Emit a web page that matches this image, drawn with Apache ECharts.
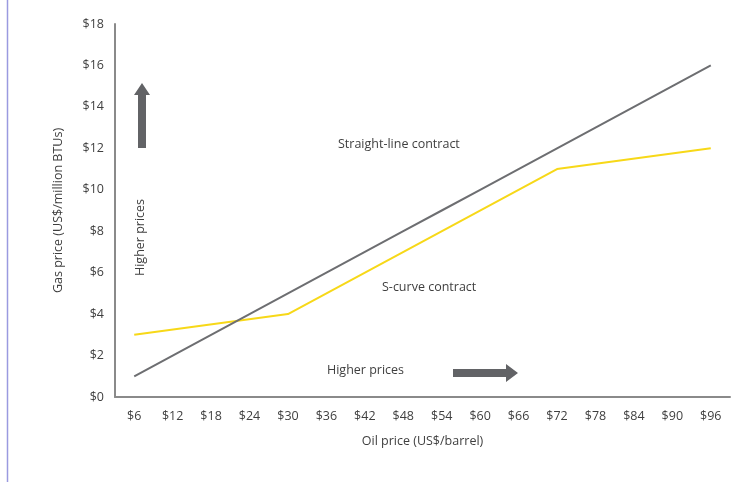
<!DOCTYPE html>
<html>
<head>
<meta charset="utf-8">
<script src="https://cdn.jsdelivr.net/npm/echarts@6/dist/echarts.min.js"></script>
<style>
  html, body { margin: 0; padding: 0; background: #fff; }
  #app { width: 750px; height: 482px; }
</style>
</head>
<body>
<div id="app"></div>
<script>
// oil price categories (US$/barrel)
var oilPrices = ['$6', '$12', '$18', '$24', '$30', '$36', '$42', '$48', '$54', '$60', '$66', '$72', '$78', '$84', '$90', '$96'];
// straight-line contract: gas price per oil price
var straightLine = [1, 2, 3, 4, 5, 6, 7, 8, 9, 10, 11, 12, 13, 14, 15, 16];
// s-curve contract: only the break points are known
var sCurve = [3, null, null, null, 4, null, null, null, null, null, null, 11, null, null, null, 12];

var font = '"Open Sans", "DejaVu Sans", sans-serif';
var txt = '#3f3f3f';
var fs = 12.5;

var chart = echarts.init(document.getElementById('app'));
chart.setOption({
    animation: false,
    grid: { left: 115, right: 20, top: 24, bottom: 85 },
    xAxis: {
        type: 'category',
        data: oilPrices,
        boundaryGap: true,
        name: 'Oil price (US$/barrel)',
        nameLocation: 'middle',
        nameGap: 38,
        nameTextStyle: { color: txt, fontSize: fs, fontFamily: font },
        axisLine: { lineStyle: { color: '#8a8a8a', width: 2 } },
        axisTick: { show: false },
        axisLabel: { color: txt, fontSize: fs, fontFamily: font, margin: 13 },
        splitLine: { show: false }
    },
    yAxis: {
        type: 'value',
        min: 0, max: 18, interval: 2,
        name: 'Gas price (US$/million BTUs)',
        nameLocation: 'middle',
        nameGap: 50,
        nameTextStyle: { color: txt, fontSize: fs, fontFamily: font },
        axisLine: { show: true, lineStyle: { color: '#8a8a8a', width: 2 } },
        axisTick: { show: false },
        axisLabel: { color: txt, fontSize: fs, fontFamily: font, margin: 11,
            formatter: function (v) { return '$' + v; } },
        splitLine: { show: false }
    },
    series: [
        {
            name: 'Straight-line contract',
            type: 'line',
            data: straightLine,
            symbol: 'none',
            lineStyle: { color: '#6d6e71', width: 2 },
            z: 3
        },
        {
            name: 'S-curve contract',
            type: 'line',
            data: sCurve,
            connectNulls: true,
            symbol: 'none',
            lineStyle: { color: '#f7d818', width: 2 },
            z: 2
        }
    ],
    graphic: [
        // left page border
        { type: 'line', shape: { x1: 7.5, y1: 0, x2: 7.5, y2: 482 }, style: { stroke: '#9a9ae0', lineWidth: 1.5 } },
        { type: 'text', left: 338, top: 138, style: { text: 'Straight-line contract', fill: txt, font: fs + 'px ' + font } },
        { type: 'text', left: 382, top: 281, style: { text: 'S-curve contract', fill: txt, font: fs + 'px ' + font } },
        { type: 'text', left: 327, top: 364, style: { text: 'Higher prices', fill: txt, font: fs + 'px ' + font } },
        { type: 'text', x: 134, y: 276, rotation: Math.PI / 2,
          style: { text: 'Higher prices', fill: txt, font: fs + 'px ' + font } },
        // right arrow
        { type: 'polygon', shape: { points: [[453, 369], [506, 369], [506, 364], [518, 373], [506, 382], [506, 377], [453, 377]] },
          style: { fill: '#626366' } },
        // up arrow
        { type: 'polygon', shape: { points: [[138, 148], [138, 95], [134, 95], [142, 83], [150, 95], [146, 95], [146, 148]] },
          style: { fill: '#626366' } }
    ]
});
</script>
</body>
</html>
